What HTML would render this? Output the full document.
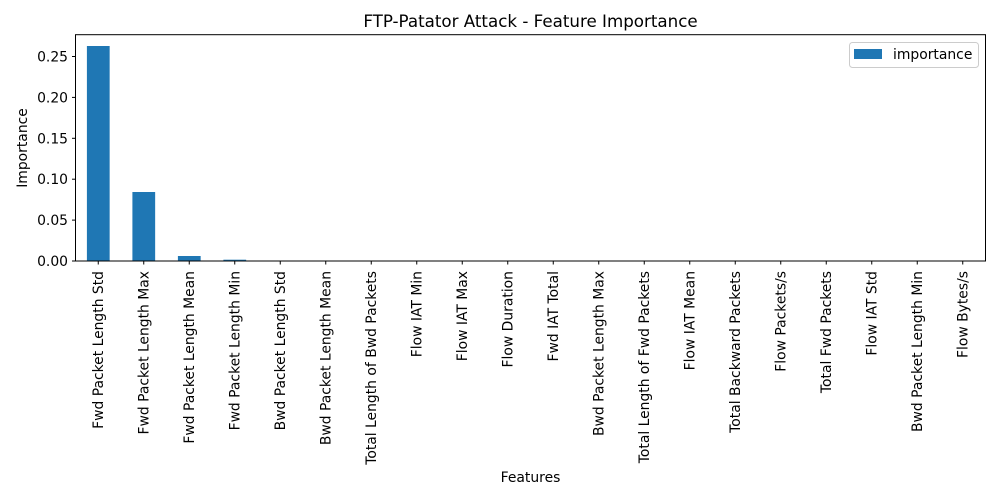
<!DOCTYPE html>
<html><head><meta charset="utf-8"><style>
html,body{margin:0;padding:0;background:#fff;}
svg{display:block;font-family:"DejaVu Sans","Liberation Sans",sans-serif;}
</style></head><body>
<svg width="1000" height="500" viewBox="0 0 1000 500" xmlns="http://www.w3.org/2000/svg">
<rect width="1000" height="500" fill="#fff"/>
<text x="530.5" y="27" font-size="16.7" text-anchor="middle" fill="#000">FTP-Patator Attack - Feature Importance</text>
<!-- bars -->
<g fill="#1f77b4">
<rect x="86.9" y="46" width="22.75" height="215"/>
<rect x="132.4" y="192" width="22.75" height="69"/>
<rect x="177.9" y="256" width="22.75" height="5"/>
<rect x="223.4" y="259.7" width="22.75" height="1.3"/>
</g>
<!-- axes -->
<rect x="75.5" y="34.7" width="910" height="226.3" fill="none" stroke="#000" stroke-width="1"/>
<!-- y ticks -->
<g stroke="#000" stroke-width="1">
<line x1="72" x2="75.5" y1="261" y2="261"/>
<line x1="72" x2="75.5" y1="220.1" y2="220.1"/>
<line x1="72" x2="75.5" y1="179.2" y2="179.2"/>
<line x1="72" x2="75.5" y1="138.3" y2="138.3"/>
<line x1="72" x2="75.5" y1="97.4" y2="97.4"/>
<line x1="72" x2="75.5" y1="56.5" y2="56.5"/>
</g>
<g font-size="13.9" text-anchor="end" fill="#000">
<text x="68" y="266">0.00</text>
<text x="68" y="225.1">0.05</text>
<text x="68" y="184.2">0.10</text>
<text x="68" y="143.3">0.15</text>
<text x="68" y="102.4">0.20</text>
<text x="68" y="61.5">0.25</text>
</g>
<text transform="translate(27,148) rotate(-90)" font-size="13.9" text-anchor="middle">Importance</text>
<text x="530.5" y="482" font-size="13.9" text-anchor="middle">Features</text>
<!-- x ticks & labels -->
<g stroke="#000" stroke-width="1">
<line x1="98.25" x2="98.25" y1="261" y2="264.5"/><line x1="143.75" x2="143.75" y1="261" y2="264.5"/><line x1="189.25" x2="189.25" y1="261" y2="264.5"/><line x1="234.75" x2="234.75" y1="261" y2="264.5"/><line x1="280.25" x2="280.25" y1="261" y2="264.5"/><line x1="325.75" x2="325.75" y1="261" y2="264.5"/><line x1="371.25" x2="371.25" y1="261" y2="264.5"/><line x1="416.75" x2="416.75" y1="261" y2="264.5"/><line x1="462.25" x2="462.25" y1="261" y2="264.5"/><line x1="507.75" x2="507.75" y1="261" y2="264.5"/><line x1="553.25" x2="553.25" y1="261" y2="264.5"/><line x1="598.75" x2="598.75" y1="261" y2="264.5"/><line x1="644.25" x2="644.25" y1="261" y2="264.5"/><line x1="689.75" x2="689.75" y1="261" y2="264.5"/><line x1="735.25" x2="735.25" y1="261" y2="264.5"/><line x1="780.75" x2="780.75" y1="261" y2="264.5"/><line x1="826.25" x2="826.25" y1="261" y2="264.5"/><line x1="871.75" x2="871.75" y1="261" y2="264.5"/><line x1="917.25" x2="917.25" y1="261" y2="264.5"/><line x1="962.75" x2="962.75" y1="261" y2="264.5"/>
</g>
<g font-size="13.9" text-anchor="end" fill="#000">
<text transform="translate(103.2,271) rotate(-90)">Fwd Packet Length Std</text>
<text transform="translate(148.7,271) rotate(-90)">Fwd Packet Length Max</text>
<text transform="translate(194.2,271) rotate(-90)">Fwd Packet Length Mean</text>
<text transform="translate(239.7,271) rotate(-90)">Fwd Packet Length Min</text>
<text transform="translate(285.2,271) rotate(-90)">Bwd Packet Length Std</text>
<text transform="translate(330.7,271) rotate(-90)">Bwd Packet Length Mean</text>
<text transform="translate(376.2,271) rotate(-90)">Total Length of Bwd Packets</text>
<text transform="translate(421.7,271) rotate(-90)">Flow IAT Min</text>
<text transform="translate(467.2,271) rotate(-90)">Flow IAT Max</text>
<text transform="translate(512.7,271) rotate(-90)">Flow Duration</text>
<text transform="translate(558.2,271) rotate(-90)">Fwd IAT Total</text>
<text transform="translate(603.7,271) rotate(-90)">Bwd Packet Length Max</text>
<text transform="translate(649.2,271) rotate(-90)">Total Length of Fwd Packets</text>
<text transform="translate(694.7,271) rotate(-90)">Flow IAT Mean</text>
<text transform="translate(740.2,271) rotate(-90)">Total Backward Packets</text>
<text transform="translate(785.7,271) rotate(-90)">Flow Packets/s</text>
<text transform="translate(831.2,271) rotate(-90)">Total Fwd Packets</text>
<text transform="translate(876.7,271) rotate(-90)">Flow IAT Std</text>
<text transform="translate(922.2,271) rotate(-90)">Bwd Packet Length Min</text>
<text transform="translate(967.7,271) rotate(-90)">Flow Bytes/s</text>
</g>
<!-- legend -->
<rect x="849.5" y="42.5" width="129" height="25" rx="3" fill="#fff" stroke="#ccc" stroke-width="1"/>
<rect x="854" y="49" width="28" height="10" fill="#1f77b4"/>
<text x="893" y="59" font-size="13.9" fill="#000">importance</text>
</svg>
</body></html>
